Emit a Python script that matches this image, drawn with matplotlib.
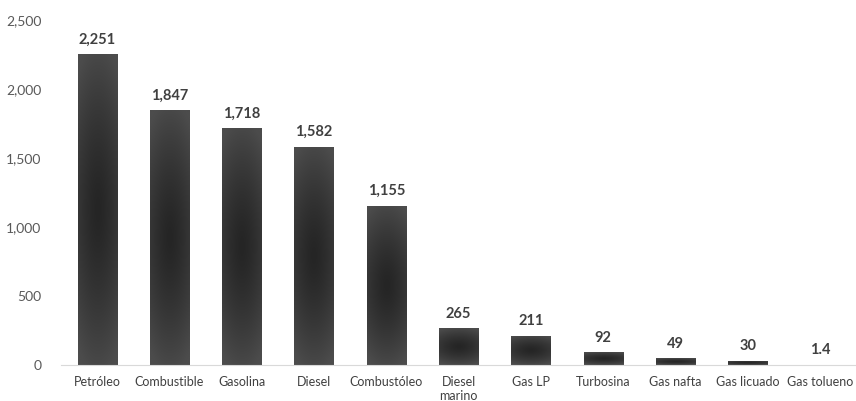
import matplotlib.pyplot as plt
import numpy as np
from matplotlib.colors import LinearSegmentedColormap

categorias = ["Petróleo", "Combustible", "Gasolina", "Diesel", "Combustóleo",
              "Diesel\nmarino", "Gas LP", "Turbosina", "Gas nafta", "Gas licuado",
              "Gas tolueno"]
valores = [2251, 1847, 1718, 1582, 1155, 265, 211, 92, 49, 30, 1.4]
etiquetas = ["2,251", "1,847", "1,718", "1,582", "1,155", "265", "211", "92",
             "49", "30", "1.4"]
yticks = [0, 500, 1000, 1500, 2000, 2500]

plt.rcParams['font.family'] = ['Lato', 'DejaVu Sans']

fig = plt.figure(figsize=(8.56, 4.01), dpi=100)
ax = fig.add_axes([0.0713, 0.0898, 0.9287, 0.8602])

cmap = LinearSegmentedColormap.from_list("g", ["#252525", "#4c4c4c"])
x = np.arange(len(categorias))
ancho = 0.54
bars = ax.bar(x, valores, width=ancho, color="none", edgecolor="none")

# gradiente radial suave dentro de cada barra
gy, gx = np.mgrid[-1:1:200j, -1:1:100j]
dist = np.clip((0.35 * gx**2 + gy**2) / 1.35, 0, 1) ** 0.7
for b in bars:
    x0, w, h = b.get_x(), b.get_width(), b.get_height()
    im = ax.imshow(dist, cmap=cmap, vmin=0, vmax=0.9, aspect="auto",
                   extent=[x0, x0 + w, 0, h], origin="lower", zorder=2,
                   interpolation="bilinear")
    im.set_clip_path(b)

for xi, v, t in zip(x, valores, etiquetas):
    ax.text(xi, v + 55, t, ha="center", va="bottom", fontsize=10.5,
            fontweight="bold", color="#404040")

ax.set_xlim(-0.5, len(categorias) - 0.5)
ax.set_ylim(0, 2500)
ax.set_yticks(yticks)
ax.set_yticklabels([f"{t:,}" for t in yticks], fontsize=10, color="#595959")
ax.set_xticks(x)
ax.set_xticklabels(categorias, fontsize=9, color="#404040", linespacing=1.15,
                   va="top")
ax.tick_params(length=0, pad=8)
ax.tick_params(axis="y", pad=14)
for s in ["top", "right", "left"]:
    ax.spines[s].set_visible(False)
ax.spines["bottom"].set_color("#d9d9d9")
ax.spines["bottom"].set_zorder(3)

fig.savefig("out.png", dpi=100)
